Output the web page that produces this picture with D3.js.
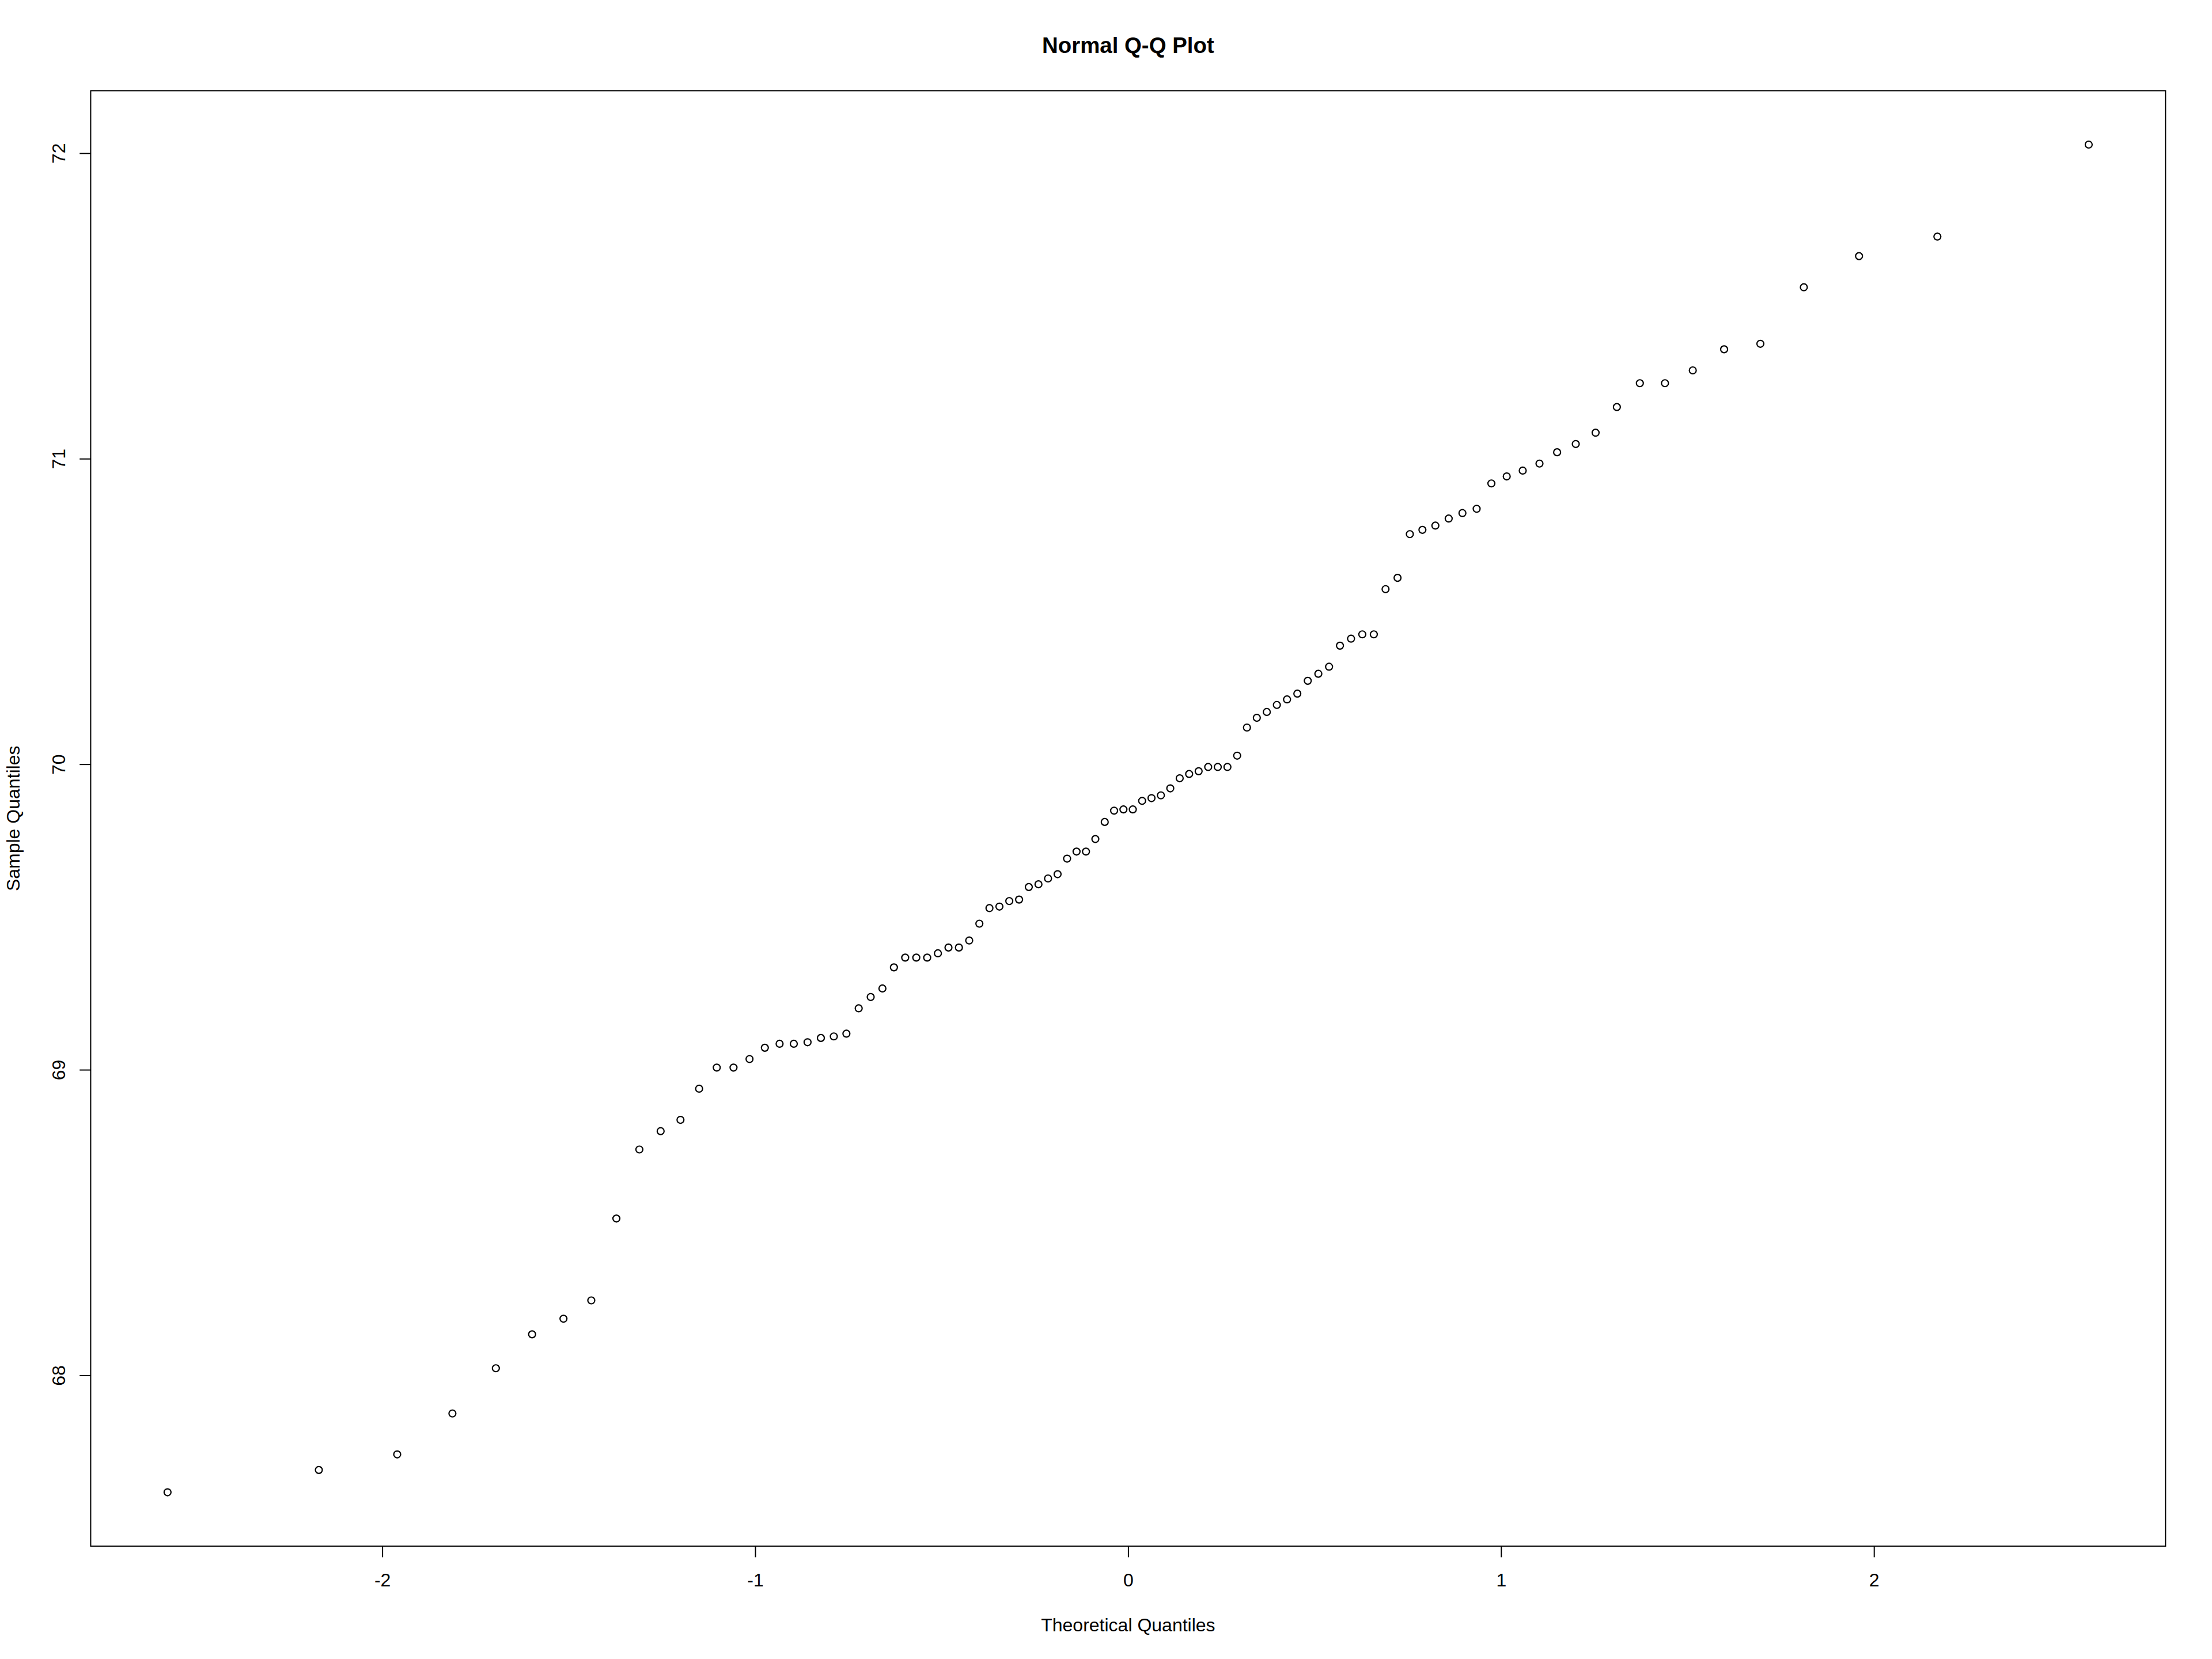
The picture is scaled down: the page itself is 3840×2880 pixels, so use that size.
<!DOCTYPE html>
<html>
<head>
<meta charset="utf-8">
<script src="https://cdn.jsdelivr.net/npm/d3@7"></script>
<style>
  body { margin: 0; background: #fff; }
  text { font-family: "Liberation Sans", Arial, sans-serif; fill: #000; }
</style>
</head>
<body>
<div id="canvas"></div>
<script>
// sorted sample values (n = 100)
var sampleValues = [
  67.617, 67.690, 67.741, 67.875, 68.023, 68.134, 68.185, 68.245, 68.513, 68.739,
  68.799, 68.836, 68.938, 69.007, 69.007, 69.035, 69.072, 69.085, 69.085, 69.090,
  69.104, 69.109, 69.118, 69.201, 69.238, 69.266, 69.335, 69.367, 69.367, 69.367,
  69.381, 69.400, 69.400, 69.423, 69.478, 69.529, 69.534, 69.552, 69.557, 69.598,
  69.607, 69.626, 69.640, 69.691, 69.714, 69.714, 69.755, 69.811, 69.848, 69.852,
  69.852, 69.880, 69.889, 69.898, 69.921, 69.954, 69.968, 69.977, 69.991, 69.991,
  69.991, 70.028, 70.120, 70.152, 70.171, 70.194, 70.212, 70.231, 70.273, 70.296,
  70.319, 70.388, 70.411, 70.425, 70.425, 70.573, 70.610, 70.753, 70.767, 70.781,
  70.804, 70.822, 70.836, 70.919, 70.942, 70.961, 70.984, 71.021, 71.048, 71.085,
  71.169, 71.247, 71.247, 71.289, 71.358, 71.376, 71.561, 71.663, 71.727, 72.028
];
var xTicks = [-2, -1, 0, 1, 2];
var yTicks = [68, 69, 70, 71, 72];
var mainTitle = "Normal Q-Q Plot";
var xLabel = "Theoretical Quantiles";
var yLabel = "Sample Quantiles";

// inverse normal cdf (Acklam), stands in for R's qnorm
function qnorm(p) {
  var a = [-3.969683028665376e+01, 2.209460984245205e+02, -2.759285104469687e+02,
           1.383577518672690e+02, -3.066479806614716e+01, 2.506628277459239e+00];
  var b = [-5.447609879822406e+01, 1.615858368580409e+02, -1.556989798598866e+02,
           6.680131188771972e+01, -1.328068155288572e+01];
  var c = [-7.784894002430293e-03, -3.223964580411365e-01, -2.400758276161838e+00,
           -2.549671348000090e+00, 4.374664141464968e+00, 2.938163982698783e+00];
  var d = [7.784695709041462e-03, 3.224671290700398e-01, 2.445134137142996e+00,
           3.754408661907416e+00];
  var plow = 0.02425, q, r;
  if (p < plow) {
    q = Math.sqrt(-2 * Math.log(p));
    return (((((c[0]*q+c[1])*q+c[2])*q+c[3])*q+c[4])*q+c[5]) /
           ((((d[0]*q+d[1])*q+d[2])*q+d[3])*q+1);
  }
  if (p <= 1 - plow) {
    q = p - 0.5; r = q * q;
    return (((((a[0]*r+a[1])*r+a[2])*r+a[3])*r+a[4])*r+a[5])*q /
           (((((b[0]*r+b[1])*r+b[2])*r+b[3])*r+b[4])*r+1);
  }
  q = Math.sqrt(-2 * Math.log(1 - p));
  return -(((((c[0]*q+c[1])*q+c[2])*q+c[3])*q+c[4])*q+c[5]) /
          ((((d[0]*q+d[1])*q+d[2])*q+d[3])*q+1);
}

// ppoints(n) for n > 10 -> (i - 0.5) / n
var n = sampleValues.length;
var points = sampleValues.map(function(v, i) {
  return { theo: qnorm((i + 0.5) / n), sample: v };
});

var W = 3840, H = 2880;
var line = 38.4; // one margin line in px
var margin = { top: 4.1 * line, right: 2.1 * line, bottom: 5.1 * line, left: 4.1 * line };

// R style: data range padded by 4% each side
function padded(ext) {
  var pad = (ext[1] - ext[0]) * 0.04;
  return [ext[0] - pad, ext[1] + pad];
}

var x = d3.scaleLinear()
  .domain(padded(d3.extent(points, function(d) { return d.theo; })))
  .range([margin.left, W - margin.right]);
var y = d3.scaleLinear()
  .domain(padded(d3.extent(points, function(d) { return d.sample; })))
  .range([H - margin.bottom, margin.top]);

var svg = d3.select("#canvas").append("svg")
  .attr("width", W)
  .attr("height", H)
  .style("display", "block")
  .style("background", "#fff");

// x axis
var gx = svg.append("g")
  .attr("transform", "translate(0," + (H - margin.bottom) + ")")
  .call(d3.axisBottom(x).tickValues(xTicks).tickSize(19.2)
    .tickFormat(function(d) { return String(d); }));
gx.select(".domain").remove();
gx.selectAll(".tick line").attr("stroke", "#000").attr("stroke-width", 2);
gx.selectAll(".tick text")
  .attr("y", 69.8).attr("dy", 0)
  .attr("font-size", 32);

// y axis, labels turned like R's las = 0
var gy = svg.append("g")
  .attr("transform", "translate(" + margin.left + ",0)")
  .call(d3.axisLeft(y).tickValues(yTicks).tickSize(19.2)
    .tickFormat(function(d) { return String(d); }));
gy.select(".domain").remove();
gy.selectAll(".tick line").attr("stroke", "#000").attr("stroke-width", 2);
gy.selectAll(".tick text")
  .attr("transform", "rotate(-90)")
  .attr("x", 0).attr("y", -44).attr("dy", 0)
  .attr("text-anchor", "middle")
  .attr("font-size", 32);

svg.selectAll("g text").attr("font-family", null);

// points, open circles (pch = 1)
svg.append("g").selectAll("circle")
  .data(points)
  .enter().append("circle")
  .attr("cx", function(d) { return x(d.theo); })
  .attr("cy", function(d) { return y(d.sample); })
  .attr("r", 6)
  .attr("fill", "none")
  .attr("stroke", "#000")
  .attr("stroke-width", 2.2);

// box
svg.append("rect")
  .attr("x", margin.left)
  .attr("y", margin.top)
  .attr("width", W - margin.left - margin.right)
  .attr("height", H - margin.top - margin.bottom)
  .attr("fill", "none")
  .attr("stroke", "#000")
  .attr("stroke-width", 2);

// titles
svg.append("text")
  .attr("x", (margin.left + W - margin.right) / 2)
  .attr("y", 91.7)
  .attr("text-anchor", "middle")
  .attr("font-size", 38.4)
  .attr("font-weight", "bold")
  .text(mainTitle);

svg.append("text")
  .attr("x", (margin.left + W - margin.right) / 2)
  .attr("y", 2832)
  .attr("text-anchor", "middle")
  .attr("font-size", 32)
  .text(xLabel);

svg.append("text")
  .attr("transform", "translate(34.3," + (margin.top + H - margin.bottom) / 2 + ") rotate(-90)")
  .attr("text-anchor", "middle")
  .attr("font-size", 32)
  .text(yLabel);
</script>
</body>
</html>
